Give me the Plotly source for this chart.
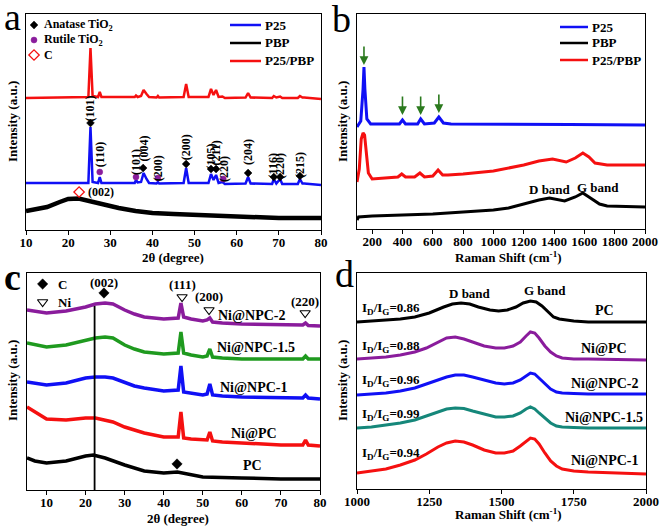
import plotly.graph_objects as go

FONT = "Liberation Serif"
W, H = 661, 527

# ---------------- panel a : XRD of P25, PBP, P25/PBP ----------------
a_x = [10, 20, 24.8, 25.3, 25.8, 27.1, 27.5, 27.9, 35.8, 36.1, 36.5, 37.3, 37.9, 38.6, 39.2,
       41.0, 41.3, 41.6, 47.4, 48.0, 48.6, 53.3, 53.9, 54.5, 55.1, 55.7, 56.6, 57.2,
       62.1, 62.7, 63.3, 68.4, 68.8, 69.4, 70.3, 70.8, 74.5, 75.0, 75.6, 76.0, 80]
a_p25pbp = [132, 133, 133, 182, 134, 133, 138, 133, 133, 134.5, 133, 134, 140, 136, 133,
            132.5, 134, 132.5, 133, 146, 133, 133, 141, 135, 140, 133, 133.5, 132,
            132.5, 137, 132.5, 132, 134, 132.5, 133.5, 132, 132, 134, 132.5, 132.5, 131]
a_p25 = [47, 47, 47, 103, 48, 47, 53, 47, 47, 50, 47.5, 48, 57, 51, 47,
         46.5, 48, 46.5, 47, 62, 47, 47, 56, 50, 55, 47, 48, 46,
         46.5, 53, 46.5, 46, 51, 46.5, 51, 46, 46, 51, 46.5, 46.5, 45]
a_pbp_x = [10, 12, 15, 18, 20, 22.5, 25, 28, 32, 36, 40, 45, 50, 60, 70, 80]
a_pbp = [19, 21, 23, 28, 31, 31.5, 29, 25, 22, 19, 17, 16, 15, 13, 12, 12]

anatase_x = [25.3, 37.8, 48.0, 53.9, 55.1, 62.7, 68.8, 70.3, 75.0]
anatase_y = [107, 62, 66, 61, 61, 57, 53, 53, 54]
rutile_x = [27.5, 36.1, 41.3, 56.8]
rutile_y = [58, 53, 52, 51]
carbon_a_x = [22.6]
carbon_a_y = [38]
a_hkl = ["(101)", "(110)", "(101)", "(004)", "(200)", "(200)", "(105)", "(211)", "(220)",
         "(204)", "(116)", "(220)", "(215)"]
a_hkl_x = [25.3, 27.6, 36.1, 37.9, 41.4, 48.0, 53.8, 55.2, 57.0, 62.7, 68.7, 70.3, 75.0]
a_hkl_y = [122, 75, 68, 81, 62, 83, 73, 77, 61, 78, 64, 64, 65]

# ---------------- panel b : Raman of P25, PBP, P25/PBP ----------------
b_p25_x = [100, 125, 140, 146, 152, 165, 190, 300, 380, 400, 420, 500, 520, 545,
           610, 640, 670, 720, 1000, 1500, 2000]
b_p25 = [102, 108, 140, 162, 140, 110, 105, 105, 105, 109, 105, 105, 110, 105,
         106, 112, 106, 105, 105, 104.5, 104]
b_mix_x = [100, 115, 128, 140, 150, 160, 175, 200, 300, 370, 395, 420, 480, 515, 545,
           600, 635, 665, 700, 800, 1000, 1100, 1200, 1300, 1390, 1480, 1540, 1590,
           1630, 1670, 1750, 2000]
b_mix = [47, 60, 90, 96, 94, 80, 56, 50, 51, 52, 55, 52, 52, 56, 52,
         53, 59, 54, 54, 55, 58, 61, 64, 68, 70, 67, 71, 76,
         72, 66, 64, 64]
b_pbp_x = [100, 110, 200, 400, 600, 800, 1000, 1100, 1200, 1300, 1370, 1470, 1540,
           1590, 1640, 1700, 1750, 2000]
b_pbp = [9, 12, 13, 14, 15, 17, 19, 21, 25, 29, 31, 28, 32, 36, 31, 25, 23, 22]
b_arrow_x = [146, 400, 520, 640]
b_arrow_y = [164, 114, 114, 116]

# ---------------- panel c : XRD of PC, Ni@PC, Ni@NPC-x ----------------
c_x = [5, 10, 15, 20, 22.5, 25, 27, 30, 32.5, 35, 40, 43.7, 44.4, 45.1, 47, 50, 51.1, 51.8, 52.5,
       55, 60, 70, 75.6, 76.3, 77, 80]
c_npc2 = [180, 177, 179, 183, 186, 187, 186, 180, 176, 173, 171, 172, 187, 173, 171, 169, 170, 172, 168,
          167, 166, 165, 165, 167, 164.5, 164]
c_npc15 = [147, 143, 145, 150, 152, 153, 152, 145, 141, 138, 136, 137, 158, 137, 135, 133, 134, 141, 133,
           132, 131, 131, 131, 134, 131, 131]
c_npc1 = [108, 105, 107, 112, 113, 113, 112, 108, 104, 102, 99, 100, 124, 98, 97, 95, 96, 106, 95,
          94, 93, 92, 92, 95, 92, 91]
c_nipc = [83, 71, 70, 72, 72, 70, 68, 63, 60, 57, 53, 53, 78, 52, 51, 50, 50, 58, 49,
          48, 47, 45, 45, 50, 45, 44]
c_pc_x = [5, 7, 10, 15, 20, 22, 25, 30, 35, 40, 43.5, 47, 50, 60, 70, 80]
c_pc = [32, 29, 27, 29, 34, 35, 32, 25, 19, 17, 18, 15, 13, 12, 11, 11]
c_ref_line = 22.3
c_carbon_x = [24.7, 43.4]
c_carbon_y = [197, 26]
c_ni_x = [44.7, 51.6, 76.2]
c_ni_y = [193, 180, 177]
c_hkl = ["(002)", "(111)", "(200)", "(220)"]
c_hkl_x = [24.7, 44.7, 51.6, 76.2]
c_hkl_y = [208, 206, 194, 189]
c_names = ["Ni@NPC-2", "Ni@NPC-1.5", "Ni@NPC-1", "Ni@PC", "PC"]
c_name_x = [62.5, 63.5, 63.0, 63.0, 62.8]
c_name_y = [175, 143, 103, 57, 25]

# ---------------- panel d : Raman of PC, Ni@PC, Ni@NPC-x ----------------
d_pc_x = [1000, 1050, 1100, 1150, 1200, 1250, 1300, 1330, 1360, 1390, 1420, 1460, 1490, 1520,
          1550, 1575, 1600, 1620, 1640, 1660, 1680, 1700, 1750, 1800, 2000]
d_pc = [167, 168, 169, 170, 172, 176, 182, 185, 186, 185, 182, 179, 178, 179,
        182, 186, 188, 187, 183, 177, 172, 170, 168, 167, 167]
d_x = [1000, 1050, 1100, 1150, 1200, 1240, 1280, 1310, 1340, 1370, 1400, 1440, 1480, 1510,
       1540, 1565, 1585, 1600, 1615, 1630, 1650, 1670, 1690, 1710, 1750, 1800, 2000]
d_nipc = [130, 131, 132, 134, 137, 141, 147, 151, 152, 150, 147, 143, 141, 141,
          143, 147, 153, 157, 156, 151, 143, 137, 133, 131, 130, 130, 129]
d_npc2 = [94, 95, 96, 98, 101, 105, 109, 112, 114, 114, 112, 109, 106, 105,
          106, 109, 113, 116, 115, 111, 105, 100, 97, 96, 95.5, 95, 95]
d_npc15 = [61, 62, 64, 66, 69, 73, 77, 80, 81, 80.5, 78, 75, 72, 72,
           73, 76, 80, 82, 80, 76, 71, 66, 63, 62, 61.5, 61, 61]
d_npc1 = [16, 18, 20, 24, 29, 35, 42, 46, 48, 47, 44, 39, 36, 36,
          38, 43, 48, 51, 50, 45, 36, 28, 23, 20, 18, 17, 15]
d_ratio = ["0.86", "0.88", "0.96", "0.99", "0.94"]
d_ratio_y = [181, 143, 109, 75, 36]
d_names = ["PC", "Ni@PC", "Ni@NPC-2", "Ni@NPC-1.5", "Ni@NPC-1"]
d_name_y = [179, 141, 106, 72, 29]

BLUE, RED, BLACK = "#1010f5", "#f51010", "#000000"
PURPLE, GREEN, TEAL = "#8a1c9c", "#1f9a1f", "#15877a"
ARROW = "#2b7a1e"


def px_x(p):
    return p / W


def px_y(p):
    return 1 - p / H


fig = go.Figure()


def line(x, y, color, ax, width=3):
    fig.add_trace(go.Scatter(x=x, y=y, mode="lines", line=dict(color=color, width=width),
                             xaxis="x" + ax, yaxis="y" + ax, showlegend=False, hoverinfo="skip"))


def marks(x, y, symbol, color, size, ax, lw=1.5):
    fig.add_trace(go.Scatter(x=x, y=y, mode="markers",
                             marker=dict(symbol=symbol, color=color, size=size, line=dict(color=color, width=lw)),
                             xaxis="x" + ax, yaxis="y" + ax, showlegend=False, hoverinfo="skip"))


# panel a
line(a_pbp_x, a_pbp, BLACK, "", 4.5)
line(a_x, a_p25, BLUE, "", 2.5)
line(a_x, a_p25pbp, RED, "", 2.5)
marks(anatase_x, anatase_y, "diamond", BLACK, 6, "", 0.5)
marks(rutile_x, rutile_y, "circle", PURPLE, 6, "", 0.5)
marks(carbon_a_x, carbon_a_y, "diamond-open", RED, 8, "", 1.3)
# panel b
line(b_pbp_x, b_pbp, BLACK, "2", 3)
line(b_mix_x, b_mix, RED, "2", 3)
line(b_p25_x, b_p25, BLUE, "2", 3)
# panel c
line(c_x, c_npc2, PURPLE, "3", 3.5)
line(c_x, c_npc15, GREEN, "3", 3.5)
line(c_x, c_npc1, BLUE, "3", 3.5)
line(c_x, c_nipc, RED, "3", 3.5)
line(c_pc_x, c_pc, BLACK, "3", 3.5)
line([c_ref_line, c_ref_line], [0, 184], BLACK, "3", 1.8)
marks(c_carbon_x, c_carbon_y, "diamond", BLACK, 8, "3", 0.5)
marks(c_ni_x, c_ni_y, "triangle-down-open", BLACK, 9, "3", 1.1)
# panel d
line(d_pc_x, d_pc, BLACK, "4", 3)
line(d_x, d_nipc, PURPLE, "4", 3)
line(d_x, d_npc2, BLUE, "4", 3)
line(d_x, d_npc15, TEAL, "4", 3)
line(d_x, d_npc1, RED, "4", 3)

tick_font = dict(family=FONT, size=13, color="black", weight="bold")


def xax(dom, rng, dtick, tick0, anchor):
    return dict(domain=dom, range=rng, dtick=dtick, tick0=tick0, anchor=anchor,
                showline=True, linecolor="black", linewidth=1.2, mirror=True,
                ticks="outside", ticklen=4, tickcolor="black", showgrid=False, zeroline=False,
                tickfont=tick_font, automargin=False, ticklabelstandoff=-4)


def yax(dom, rng, anchor):
    return dict(domain=dom, range=rng, anchor=anchor, showline=True, linecolor="black",
                linewidth=1.2, mirror=True, ticks="", showticklabels=False,
                showgrid=False, zeroline=False, automargin=False)


ann = []


def text(x, y, s, size=13, xref="paper", yref="paper", bold=True, angle=0, xa="center",
         ya="middle", color="black", family=FONT):
    ann.append(dict(x=x, y=y, xref=xref, yref=yref, text=s, showarrow=False, textangle=angle,
                    xanchor=xa, yanchor=ya,
                    font=dict(family=family, size=size, color=color, weight="bold" if bold else "normal")))


# panel letters
text(px_x(12), px_y(17), "a", 38, bold=False)
text(px_x(342), px_y(19), "b", 38, bold=False)
text(px_x(12), px_y(277), "c", 38, bold=True)
text(px_x(344), px_y(274), "d", 38, bold=False)

# axis titles
for cx, cy in [(13, 122), (343, 122), (13, 381), (343, 381)]:
    text(px_x(cx), px_y(cy), "Intensity (a.u.)", 13, angle=-90)
text(px_x(173), px_y(258), "2θ (degree)", 13)
text(px_x(508), px_y(257), "Raman Shift (cm<sup>-1</sup>)", 13)
text(px_x(178), px_y(518), "2θ (degree)", 13)
text(px_x(508), px_y(514), "Raman Shift (cm<sup>-1</sup>)", 13)

# panel a annotations
for s, x, y in zip(a_hkl, a_hkl_x, a_hkl_y):
    text(x, y, s, 12, xref="x", yref="y", angle=-90)
text(24.2, 38, "(002)", 12, xref="x", yref="y", xa="left")
text(px_x(42), px_y(25), "Anatase TiO<sub>2</sub>", 12, xa="left")
text(px_x(42), px_y(40), "Rutile TiO<sub>2</sub>", 12, xa="left")
text(px_x(42), px_y(55), "C", 12, xa="left")
for s, y in [("P25", 25), ("PBP", 43), ("P25/PBP", 61)]:
    text(px_x(263), px_y(y), s, 13, xa="left")
for s, y in [("P25", 27), ("PBP", 43), ("P25/PBP", 60)]:
    text(px_x(590), px_y(y), s, 13, xa="left")
text(px_x(550), px_y(189), "D band", 13)
text(px_x(598), px_y(187), "G band", 13)

# panel c annotations
for s, x, y in zip(c_hkl, c_hkl_x, c_hkl_y):
    text(x, y, s, 13, xref="x3", yref="y3")
for s, x, y in zip(c_names, c_name_x, c_name_y):
    text(x, y, s, 14, xref="x3", yref="y3")
text(px_x(56), px_y(284), "C", 13, xa="left")
text(px_x(56), px_y(302), "Ni", 13, xa="left")

# panel d annotations
text(px_x(470), px_y(293), "D band", 13)
text(px_x(545), px_y(290), "G band", 13)
for s, y in zip(d_ratio, d_ratio_y):
    text(1010, y, "I<sub>D</sub>/I<sub>G</sub>=" + s, 13, xref="x4", yref="y4", xa="left")
for s, y in zip(d_names, d_name_y):
    text(1855, y, s, 14, xref="x4", yref="y4")

# green arrows in panel b
for x, y in zip(b_arrow_x, b_arrow_y):
    ann.append(dict(x=x, y=y, xref="x2", yref="y2", ax=0, ay=-20, showarrow=True,
                    arrowhead=2, arrowsize=1.1, arrowwidth=1.6, arrowcolor=ARROW, text=""))

# legend glyphs (manual)
shapes = []
for y, c in [(25, BLUE), (43, BLACK), (61, RED)]:
    shapes.append(dict(type="line", xref="paper", yref="paper", x0=px_x(230), x1=px_x(261),
                       y0=px_y(y), y1=px_y(y), line=dict(color=c, width=2.5)))
for y, c in [(27, BLUE), (43, BLACK), (60, RED)]:
    shapes.append(dict(type="line", xref="paper", yref="paper", x0=px_x(560), x1=px_x(588),
                       y0=px_y(y), y1=px_y(y), line=dict(color=c, width=2.5)))
marks([11.9], [205], "diamond", BLACK, 6, "", 0.5)
marks([11.9], [190], "circle", PURPLE, 6, "", 0.5)
marks([11.9], [175], "diamond-open", RED, 8, "", 1.3)
marks([9.0], [206], "diamond", BLACK, 8, "3", 0.5)
marks([9.0], [188], "triangle-down-open", BLACK, 9, "3", 1.1)

fig.update_layout(
    width=W, height=H, margin=dict(l=0, r=0, t=0, b=0, autoexpand=False),
    paper_bgcolor="white", plot_bgcolor="white", showlegend=False,
    xaxis=xax([px_x(26), px_x(321)], [10, 80], 10, 10, "y"),
    yaxis=yax([px_y(230), px_y(14)], [0, 216], "x"),
    xaxis2=xax([px_x(357), px_x(645)], [100, 2000], 200, 200, "y2"),
    yaxis2=yax([px_y(229), px_y(14)], [0, 215], "x2"),
    xaxis3=xax([px_x(27), px_x(320)], [5, 80], 10, 10, "y3"),
    yaxis3=yax([px_y(490), px_y(273)], [0, 217], "x3"),
    xaxis4=xax([px_x(357), px_x(646)], [1000, 2000], 250, 1000, "y4"),
    yaxis4=yax([px_y(489), px_y(273)], [0, 216], "x4"),
    annotations=ann, shapes=shapes,
)

fig.write_html("out.html", config={"displayModeBar": False},
               post_script="document.body.style.margin='0';document.body.style.overflow='hidden';")
